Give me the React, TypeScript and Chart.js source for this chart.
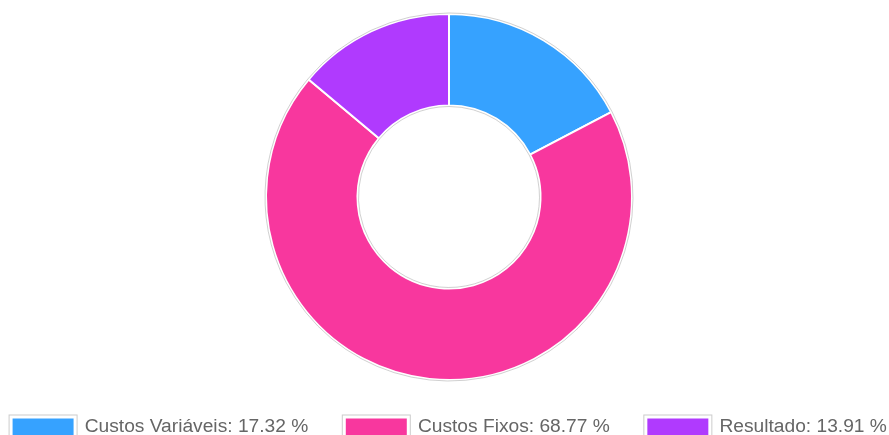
import React, { useEffect, useRef } from "react";
import { Chart, registerables } from "chart.js";

Chart.register(...registerables);

const categories = ["Custos Variáveis", "Custos Fixos", "Resultado"];
const values = [17.32, 68.77, 13.91];
const colors = ["#36a2ff", "#f8379e", "#b03afe"];

const BOX_W = 64;
const BOX_H = 20;

const outlinePlugin = {
  id: "outline",
  afterDatasetsDraw(chart: any) {
    const meta = chart.getDatasetMeta(0);
    const ctx = chart.ctx;
    meta.data.forEach((arc: any) => {
      const p = arc.getProps(["x", "y", "startAngle", "endAngle", "outerRadius", "innerRadius"], true);
      ctx.save();
      ctx.strokeStyle = "rgba(150,150,150,0.45)";
      ctx.lineWidth = 1;
      ctx.beginPath();
      ctx.arc(p.x, p.y, p.outerRadius + 1, p.startAngle, p.endAngle);
      ctx.stroke();
      ctx.beginPath();
      ctx.arc(p.x, p.y, p.innerRadius - 1, p.startAngle, p.endAngle);
      ctx.stroke();
      ctx.restore();
    });
  },
  afterDraw(chart: any) {
    const boxes = chart.legend?.legendHitBoxes || [];
    const ctx = chart.ctx;
    ctx.save();
    ctx.strokeStyle = "rgba(170,170,170,0.6)";
    ctx.lineWidth = 1;
    boxes.forEach((b: any) => {
      ctx.strokeRect(b.left - 2, b.top - 2, BOX_W + 4, BOX_H + 4);
    });
    ctx.restore();
  },
};

export default function App() {
  const ref = useRef<HTMLCanvasElement | null>(null);
  useEffect(() => {
    if (!ref.current) return;
    const chart = new Chart(ref.current, {
      type: "doughnut",
      data: {
        labels: categories,
        datasets: [
          {
            data: values,
            backgroundColor: colors,
            borderColor: "#ffffff",
            borderWidth: 2,
          },
        ],
      },
      plugins: [outlinePlugin],
      options: {
        animation: false,
        responsive: true,
        maintainAspectRatio: false,
        cutout: "50%",
        layout: { padding: { top: 5, left: 0, right: 0, bottom: 0 } },
        plugins: {
          tooltip: { enabled: false },
          legend: {
            position: "bottom",
            labels: {
              boxWidth: BOX_W,
              boxHeight: BOX_H,
              color: "#666",
              font: { size: 19.2, family: "Arial, 'Liberation Sans', Helvetica, sans-serif" },
              padding: 36,
              generateLabels: () =>
                categories.map((name, i) => ({
                  text: `${name}: ${values[i].toFixed(2)} %`,
                  fillStyle: colors[i],
                  strokeStyle: "#ffffff",
                  lineWidth: 3,
                  hidden: false,
                  index: i,
                  fontColor: "#666",
                })),
            },
          },
        },
      },
    });
    return () => chart.destroy();
  }, []);
  return (
    <div
      style={{
        position: "fixed",
        left: "8px",
        top: "8px",
        width: "881px",
        height: "427px",
        overflow: "hidden",
      }}
    >
      <div style={{ position: "absolute", left: "-39px", top: "0px", width: "960px", height: "439px" }}>
        <canvas ref={ref} />
      </div>
    </div>
  );
}
